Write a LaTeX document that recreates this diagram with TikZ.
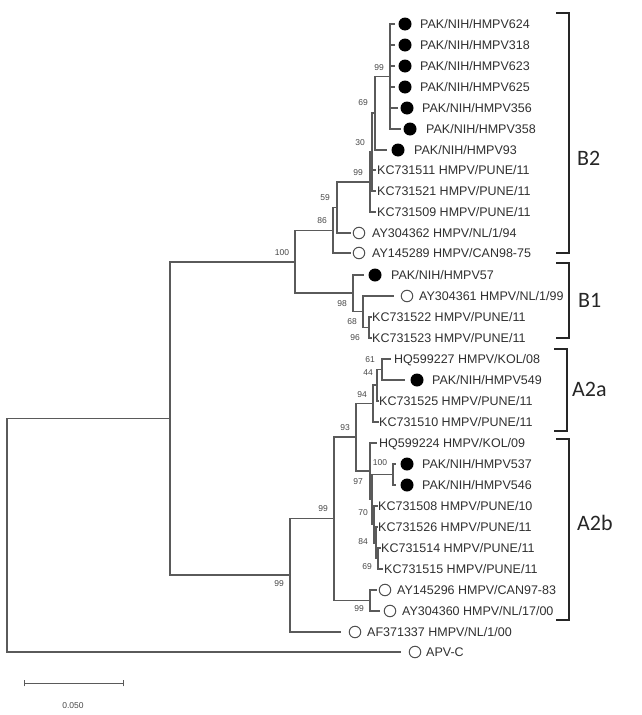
\documentclass[tikz,border=0pt]{standalone}
\usepackage{fontspec}
\setmainfont{Liberation Sans}
\newfontfamily\clfont{Carlito}
\definecolor{treegray}{HTML}{5A5A5A}
\definecolor{txtgray}{HTML}{303030}
\definecolor{bootgray}{HTML}{484848}
\definecolor{ogray}{HTML}{505050}
\begin{document}
\begin{tikzpicture}[x=1pt,y=-1pt,
  branch/.style={draw=treegray,line width=1.1pt,line cap=rect},
  leaf/.style={anchor=base west,inner sep=0pt,font=\fontsize{12.5}{14}\selectfont,text=txtgray},
  boot/.style={inner sep=0pt,font=\fontsize{8.5}{10}\selectfont,text=bootgray},
  fdot/.style={circle,fill=black,minimum size=13pt,inner sep=0pt},
  odot/.style={circle,draw=ogray,line width=1pt,minimum size=11.5pt,inner sep=0pt},
  bracket/.style={draw=black!85,line width=1.6pt},
  clade/.style={inner sep=0pt,font=\clfont\fontsize{22}{24}\selectfont,text=black!85}]
\fill[white] (0,0) rectangle (641,715);
\useasboundingbox (0,0) rectangle (641,715);

% ---- leaf tips
\coordinate (t1) at (394,24);
\coordinate (t2) at (394,45);
\coordinate (t3) at (394,66);
\coordinate (t4) at (394,87);
\coordinate (t5) at (397,108);
\coordinate (t6) at (400,129);
\coordinate (t7) at (386,150);
\coordinate (t8) at (375,170);
\coordinate (t9) at (375,191);
\coordinate (t10) at (375,212);
\coordinate (t11) at (350,233);
\coordinate (t12) at (350,253);
\coordinate (t13) at (363,275);
\coordinate (t14) at (393,296);
\coordinate (t15) at (371,317);
\coordinate (t16) at (371,338);
\coordinate (t17) at (390,359);
\coordinate (t18) at (404,380);
\coordinate (t19) at (378,401);
\coordinate (t20) at (378,422);
\coordinate (t21) at (376,443);
\coordinate (t22) at (395,464);
\coordinate (t23) at (395,485);
\coordinate (t24) at (377,506);
\coordinate (t25) at (377,527);
\coordinate (t26) at (380,548);
\coordinate (t27) at (382,569);
\coordinate (t28) at (376,590);
\coordinate (t29) at (379,611);
\coordinate (t30) at (340,632);
\coordinate (t31) at (400,652);

% ---- internal nodes
\coordinate (n99b) at (390,76.5);
\coordinate (n69) at (375,113);
\coordinate (n30) at (372,152);
\coordinate (n99) at (370,182);
\coordinate (n59) at (337,207.5);
\coordinate (n86) at (333,230.5);
\coordinate (n96) at (369,327.5);
\coordinate (n68) at (363,311.5);
\coordinate (n98) at (353,293);
\coordinate (nB) at (295,262);
\coordinate (n61) at (382,369.5);
\coordinate (n44) at (377,385);
\coordinate (n94) at (373,403.5);
\coordinate (n100) at (393,474.5);
\coordinate (n69b) at (378,558.5);
\coordinate (n84) at (376,543);
\coordinate (n70) at (374,524.5);
\coordinate (nZ) at (372,499.5);
\coordinate (n97) at (370,471);
\coordinate (n93) at (356,437);
\coordinate (nAY) at (370,600.5);
\coordinate (nA99) at (334,518.5);
\coordinate (nA) at (290,575);
\coordinate (nAB) at (170,418.5);
\coordinate (root) at (7,535);

% ---- branches
\foreach \p/\c in {n99b/t1,n99b/t2,n99b/t3,n99b/t4,n99b/t5,n99b/t6,
  n69/n99b,n69/t7,n30/n69,n30/t8,n30/t9,n99/n30,n99/t10,
  n59/n99,n59/t11,n86/n59,n86/t12,
  n96/t15,n96/t16,n68/t14,n68/n96,n98/t13,n98/n68,
  nB/n86,nB/n98,
  n61/t17,n61/t18,n44/n61,n44/t19,n94/n44,n94/t20,
  n100/t22,n100/t23,n69b/t26,n69b/t27,n84/t25,n84/n69b,n70/t24,n70/n84,
  nZ/n100,nZ/n70,n97/t21,n97/nZ,n93/n94,n93/n97,
  nAY/t28,nAY/t29,nA99/n93,nA99/nAY,nA/nA99,nA/t30,
  nAB/nB,nAB/nA,root/nAB,root/t31}
  \draw[branch] (\p) |- (\c);

% ---- markers
\node[fdot] (c1) at (405,24) {};
\node[fdot] (c2) at (405,45) {};
\node[fdot] (c3) at (405,66) {};
\node[fdot] (c4) at (405,87) {};
\node[fdot] (c5) at (407,108) {};
\node[fdot] (c6) at (410,129) {};
\node[fdot] (c7) at (398,150) {};
\node[odot] (c11) at (359,233) {};
\node[odot] (c12) at (359,253) {};
\node[fdot] (c13) at (375,275) {};
\node[odot] (c14) at (407,296) {};
\node[fdot] (c18) at (417,380) {};
\node[fdot] (c22) at (407,464) {};
\node[fdot] (c23) at (407,485) {};
\node[odot] (c28) at (385,590) {};
\node[odot] (c29) at (390,611) {};
\node[odot] (c30) at (355,632) {};
\node[odot] (c31) at (415,652) {};

% ---- leaf labels
\node[leaf] (l1) at (420,28.5) {PAK/NIH/HMPV624};
\node[leaf] (l2) at (420,49.5) {PAK/NIH/HMPV318};
\node[leaf] (l3) at (420,70.5) {PAK/NIH/HMPV623};
\node[leaf] (l4) at (420,91.5) {PAK/NIH/HMPV625};
\node[leaf] (l5) at (422,112.5) {PAK/NIH/HMPV356};
\node[leaf] (l6) at (426,133.5) {PAK/NIH/HMPV358};
\node[leaf] (l7) at (414,154.5) {PAK/NIH/HMPV93};
\node[leaf] (l8) at (377,174.5) {KC731511 HMPV/PUNE/11};
\node[leaf] (l9) at (377,195.5) {KC731521 HMPV/PUNE/11};
\node[leaf] (l10) at (377,216.5) {KC731509 HMPV/PUNE/11};
\node[leaf] (l11) at (372,237.5) {AY304362 HMPV/NL/1/94};
\node[leaf] (l12) at (372,257.5) {AY145289 HMPV/CAN98-75};
\node[leaf] (l13) at (391,279.5) {PAK/NIH/HMPV57};
\node[leaf] (l14) at (419,300.5) {AY304361 HMPV/NL/1/99};
\node[leaf] (l15) at (372,321.5) {KC731522 HMPV/PUNE/11};
\node[leaf] (l16) at (372,342.5) {KC731523 HMPV/PUNE/11};
\node[leaf] (l17) at (394,363.5) {HQ599227 HMPV/KOL/08};
\node[leaf] (l18) at (432,384.5) {PAK/NIH/HMPV549};
\node[leaf] (l19) at (379,405.5) {KC731525 HMPV/PUNE/11};
\node[leaf] (l20) at (379,426.5) {KC731510 HMPV/PUNE/11};
\node[leaf] (l21) at (379,447.5) {HQ599224 HMPV/KOL/09};
\node[leaf] (l22) at (422,468.5) {PAK/NIH/HMPV537};
\node[leaf] (l23) at (422,489.5) {PAK/NIH/HMPV546};
\node[leaf] (l24) at (378,510.5) {KC731508 HMPV/PUNE/10};
\node[leaf] (l25) at (378,531.5) {KC731526 HMPV/PUNE/11};
\node[leaf] (l26) at (381,552.5) {KC731514 HMPV/PUNE/11};
\node[leaf] (l27) at (384,573.5) {KC731515 HMPV/PUNE/11};
\node[leaf] (l28) at (397,594.5) {AY145296 HMPV/CAN97-83};
\node[leaf] (l29) at (402,615.5) {AY304360 HMPV/NL/17/00};
\node[leaf] (l30) at (367,636.5) {AF371337 HMPV/NL/1/00};
\node[leaf] (l31) at (426,656.5) {APV-C};

% ---- bootstrap values
\node[boot] (b1) at (379,68) {99};
\node[boot] (b2) at (363,103) {69};
\node[boot] (b3) at (360,143) {30};
\node[boot] (b4) at (358,173) {99};
\node[boot] (b5) at (325,198) {59};
\node[boot] (b6) at (322,221) {86};
\node[boot] (b7) at (282,253) {100};
\node[boot] (b8) at (342,304) {98};
\node[boot] (b9) at (352,322) {68};
\node[boot] (b10) at (355,338) {96};
\node[boot] (b11) at (370,360) {61};
\node[boot] (b12) at (368,373) {44};
\node[boot] (b13) at (362,395) {94};
\node[boot] (b14) at (345,428) {93};
\node[boot] (b15) at (380,463) {100};
\node[boot] (b16) at (358,482) {97};
\node[boot] (b17) at (363,513) {70};
\node[boot] (b18) at (363,542) {84};
\node[boot] (b19) at (367,567) {69};
\node[boot] (b20) at (323,509) {99};
\node[boot] (b21) at (359,609) {99};
\node[boot] (b22) at (279,584) {99};

% ---- clade brackets
\draw[bracket] (556,13) -- (569,13) -- (569,253) -- (556,253);
\draw[bracket] (556,263) -- (569,263) -- (569,338) -- (556,338);
\draw[bracket] (554,349) -- (567,349) -- (567,431) -- (554,431);
\draw[bracket] (556,439) -- (569,439) -- (569,620) -- (556,620);
\node[clade,anchor=west] (k1) at (577,158) {B2};
\node[clade,anchor=west] (k2) at (578,300) {B1};
\node[clade,anchor=west] (k3) at (572,389) {A2a};
\node[clade,anchor=west] (k4) at (577,523) {A2b};

% ---- scale bar
\coordinate (s1) at (24,683);
\coordinate (s2) at (123,683);
\draw[branch,line width=0.9pt] (s1) -- (s2);
\draw[branch,line width=0.9pt] ([yshift=3pt]s1) -- ([yshift=-3pt]s1);
\draw[branch,line width=0.9pt] ([yshift=3pt]s2) -- ([yshift=-3pt]s2);
\node[boot] (sl) at (73,706) {0.050};
\end{tikzpicture}
\end{document}
